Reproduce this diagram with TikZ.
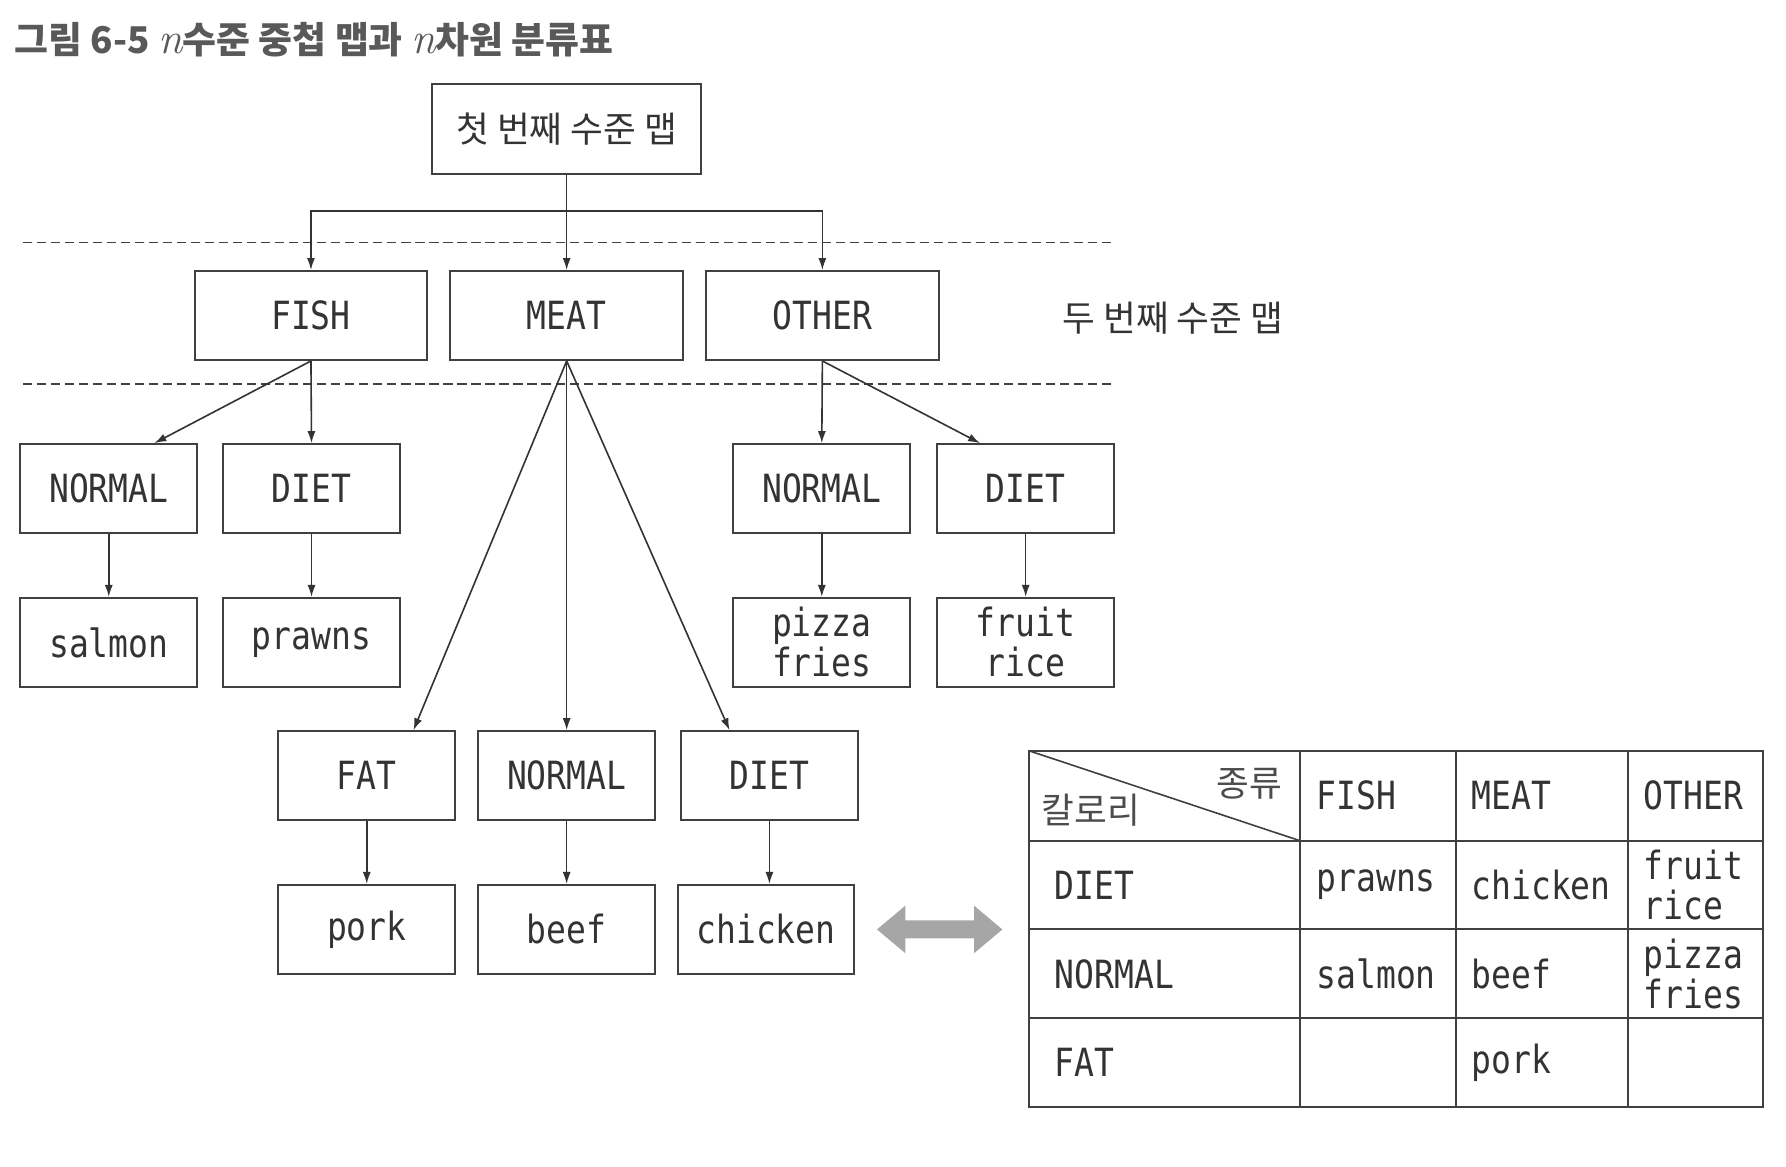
\documentclass[tikz,border=0pt]{standalone}
\usepackage{fontspec}
\setmonofont{DejaVu Sans Mono}[FakeStretch=0.85]
\newfontfamily\kofont{Noto Sans CJK KR}
\usetikzlibrary{arrows.meta,calc,shapes.arrows}

\newcommand\monotext{\ttfamily\fontsize{9.7}{10}\selectfont}
\newcommand\kotext{\kofont\fontsize{8.9}{10}\selectfont}

\begin{document}
\begin{tikzpicture}[x = 0.01cm, y = -0.01cm, line width = 0.5pt,
                    box/.style = {draw = black!75, font = \monotext, text = black!80, inner sep = 0pt,
                                  minimum width = 1.55cm, minimum height = 0.78cm, align = center},
                    keybox/.style = {box, minimum width = 2.04cm},
                    cell/.style = {anchor = west, font = \monotext, text = black!80, inner sep = 0pt, align = left},
                    link/.style = {draw = black!80, line width = 0.4pt, -{Latex[length = 3pt, width = 2pt]}},
                    level/.style = {draw = black!75, line width = 0.4pt, dash pattern = on 2.3pt off 1.2pt}]
      \useasboundingbox (0, 0) rectangle (1568, 1024);
      % title
      \node [anchor = west, inner sep = 0pt, text = black!65,
             font = \kofont\bfseries\fontsize{9.2}{10}\selectfont] (title) at (12, 35)
            {그림 6-5 {\rmfamily\mdseries\itshape\fontsize{11}{10}\selectfont n}수준 중첩 맵과 {\rmfamily\mdseries\itshape\fontsize{11}{10}\selectfont n}차원 분류표};
      % first level
      \node [box, minimum width = 2.36cm, minimum height = 0.79cm, font = \kotext] (top) at (497.5, 113.5) {첫 번째 수준 맵};
      \coordinate (split) at (497.5, 185);
      \draw [level] (20, 213) -- (978, 213);
      \draw [level] (20, 337) -- (978, 337);
      % second level
      \node [keybox] (fish) at (273, 277) {FISH};
      \node [keybox] (meat) at (497.5, 277) {MEAT};
      \node [keybox] (other) at (722, 277) {OTHER};
      \node [font = \kotext, text = black!80, anchor = west, inner sep = 0pt] (second) at (932, 279) {두 번째 수준 맵};
      \draw [link] (top.south) -- (meat.north);
      \draw [link] (split) -| (fish.north);
      \draw [link] (split) -| (other.north);
      % fish and other
      \node [box] (fnormal) at (95.5, 429) {NORMAL};
      \node [box] (fdiet) at (273.5, 429) {DIET};
      \node [box] (onormal) at (721.5, 429) {NORMAL};
      \node [box] (odiet) at (900.5, 429) {DIET};
      \node [box] (salmon) at (95.5, 564) {salmon};
      \node [box] (prawns) at (273.5, 564) {prawns};
      \node [box] (pizza) at (721.5, 564) {pizza\\fries};
      \node [box] (fruit) at (900.5, 564) {fruit\\rice};
      \draw [link] (fish.south) -- ($(fnormal.north) + (40, 0)$);
      \draw [link] (fish.south) -- (fdiet.north);
      \draw [link] (other.south) -- (onormal.north);
      \draw [link] (other.south) -- ($(odiet.north) + (-40, 0)$);
      \draw [link] (fnormal) -- (salmon);
      \draw [link] (fdiet) -- (prawns);
      \draw [link] (onormal) -- (pizza);
      \draw [link] (odiet) -- (fruit);
      % meat
      \node [box] (mfat) at (322, 681) {FAT};
      \node [box] (mnormal) at (497.5, 681) {NORMAL};
      \node [box] (mdiet) at (675.5, 681) {DIET};
      \node [box] (pork) at (322, 816) {pork};
      \node [box] (beef) at (497.5, 816) {beef};
      \node [box] (chicken) at (672.5, 816) {chicken};
      \draw [link] (meat.south) -- ($(mfat.north) + (41, 0)$);
      \draw [link] (meat.south) -- (mnormal.north);
      \draw [link] (meat.south) -- ($(mdiet.north) + (-35, 0)$);
      \draw [link] (mfat) -- (pork);
      \draw [link] (mnormal) -- (beef);
      \draw [link] (mdiet.south) -- (mdiet.south |- chicken.north);
      % same thing as a table
      \node [double arrow, fill = black!35, draw = none, inner sep = 0.07cm, minimum height = 1.1cm,
             double arrow head extend = 0.13cm, double arrow tip angle = 80] (same) at (825, 816) {};
      \draw [draw = black!75] (903, 659) rectangle (1548, 972);
      \foreach \x in {1141, 1278, 1429}
        \draw [draw = black!75] (\x, 659) -- (\x, 972);
      \foreach \y in {738, 816, 894}
        \draw [draw = black!75] (903, \y) -- (1548, \y);
      \draw [draw = black!75, line width = 0.4pt] (903, 659) -- (1141, 738);
      \node [font = \kotext, text = black!70, inner sep = 0pt] (kind) at (1097, 688) {종류};
      \node [font = \kotext, text = black!70, inner sep = 0pt] (calorie) at (958, 711) {칼로리};
      \node [cell] (hfish) at (1155, 698.5) {FISH};
      \node [cell] (hmeat) at (1291, 698.5) {MEAT};
      \node [cell] (hother) at (1442, 698.5) {OTHER};
      \node [cell] (rdiet) at (925, 777) {DIET};
      \node [cell] (rnormal) at (925, 855) {NORMAL};
      \node [cell] (rfat) at (925, 933) {FAT};
      \node [cell] (c11) at (1155, 777) {prawns};
      \node [cell] (c12) at (1291, 777) {chicken};
      \node [cell] (c13) at (1442, 777) {fruit\\rice};
      \node [cell] (c21) at (1155, 855) {salmon};
      \node [cell] (c22) at (1291, 855) {beef};
      \node [cell] (c23) at (1442, 855) {pizza\\fries};
      \node [cell] (c32) at (1291, 933) {pork};
    \end{tikzpicture}
\end{document}
